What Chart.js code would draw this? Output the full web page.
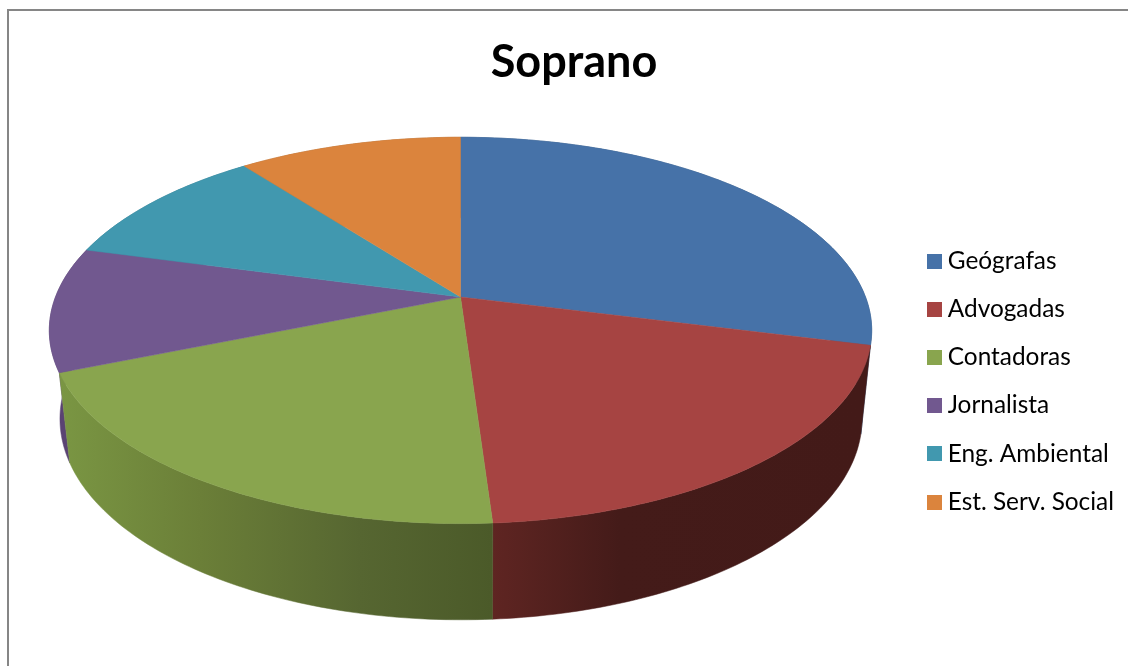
<!DOCTYPE html>
<html>
<head>
<meta charset="utf-8">
<title>Soprano</title>
<script src="https://cdn.jsdelivr.net/npm/chart.js@4"></script>
<style>
  html, body { margin: 0; padding: 0; background: #fff; }
  canvas { display: block; }
</style>
</head>
<body>
<canvas id="myChart" width="1128" height="666"></canvas>
<script>
'use strict'

const chartTitle = 'Soprano';
const categories = ['Geógrafas', 'Advogadas', 'Contadoras', 'Jornalista', 'Eng. Ambiental', 'Est. Serv. Social'];
const shares = [29, 20, 19.9, 10.4, 10.4, 10.4];
const topColors = ['#4672a8', '#a64442', '#89a54e', '#71588f', '#4198af', '#db843d'];
// rim shading, [x, colour] from left to right
const rimStops = [
  [[60, '#36587f'], [862, '#36587f']],
  [[492, '#5f2522'], [620, '#441b19'], [862, '#431a18']],
  [[60, '#7a9643'], [200, '#6b7f38'], [360, '#566631'], [492, '#4b5a29']],
  [[60, '#5a4373'], [862, '#5a4373']],
  [[60, '#32758a'], [862, '#32758a']],
  [[60, '#a9652e'], [862, '#a9652e']],
];

// tilted disc: top face and bottom face of the pie
const tilt = 0.173;
const topFace = { x: 460.5, y: 297, a: 405, b: 187.4 };
const bottomFace = { x: 461, y: 384, a: 395, b: 195 };

function project(face, angle) {
  const u = Math.cos(angle);
  const v = Math.sin(angle);
  const w = 1 - tilt * v;
  return { x: face.x + face.a * u / w, y: face.y + face.b * v / w };
}

function tracePath(ctx, face, from, to, first) {
  const steps = Math.max(2, Math.ceil(Math.abs(to - from) * 60));
  for (let i = 0; i <= steps; i++) {
    const p = project(face, from + (to - from) * i / steps);
    if (i === 0 && first) ctx.moveTo(p.x, p.y);
    else ctx.lineTo(p.x, p.y);
  }
}

function rimFill(ctx, index) {
  const stops = rimStops[index];
  const x0 = stops[0][0];
  const x1 = stops[stops.length - 1][0];
  const gradient = ctx.createLinearGradient(x0, 0, x1, 0);
  stops.forEach(([x, color]) => gradient.addColorStop((x - x0) / (x1 - x0), color));
  return gradient;
}

const pie3d = {
  id: 'pie3d',
  beforeDraw(chart) {
    // only the left and top of the frame are inside the picture
    const ctx = chart.ctx;
    ctx.save();
    ctx.fillStyle = '#868686';
    ctx.fillRect(7, 9, 2, 657);
    ctx.fillRect(7, 9, 1121, 2);
    ctx.restore();
  },
  beforeDatasetsDraw(chart) {
    const ctx = chart.ctx;
    const arcs = chart.getDatasetMeta(0).data.map((arc, index) => ({ arc, index }));

    // rims, back ones first
    const byDepth = arcs.slice().sort((m, n) =>
      Math.sin((m.arc.startAngle + m.arc.endAngle) / 2) - Math.sin((n.arc.startAngle + n.arc.endAngle) / 2));
    byDepth.forEach(({ arc, index }) => {
      ctx.beginPath();
      tracePath(ctx, topFace, arc.startAngle, arc.endAngle, true);
      tracePath(ctx, bottomFace, arc.endAngle, arc.startAngle, false);
      ctx.closePath();
      ctx.fillStyle = rimFill(ctx, index);
      ctx.strokeStyle = ctx.fillStyle;
      ctx.lineWidth = 0.5;
      ctx.fill();
      ctx.stroke();
    });

    // top face
    arcs.forEach(({ arc, index }) => {
      ctx.beginPath();
      ctx.moveTo(topFace.x, topFace.y);
      tracePath(ctx, topFace, arc.startAngle, arc.endAngle, false);
      ctx.closePath();
      ctx.fillStyle = topColors[index];
      ctx.fill();
      ctx.strokeStyle = topColors[index];
      ctx.lineWidth = 0.5;
      ctx.stroke();
    });
    return false;
  },
};

function makeSwatch(color) {
  const swatch = document.createElement('canvas');
  swatch.width = 15;
  swatch.height = 15;
  const c = swatch.getContext('2d');
  c.fillStyle = color;
  c.fillRect(0, 0, 15, 15);
  return swatch;
}

const swatches = topColors.map(makeSwatch);

const ctx = document.getElementById('myChart').getContext('2d');
const myChart = new Chart(ctx, {
  type: 'pie',
  data: {
    labels: categories,
    datasets: [{ data: shares, backgroundColor: topColors, borderWidth: 0 }],
  },
  plugins: [pie3d],
  options: {
    responsive: false,
    animation: false,
    layout: { padding: { left: 24, right: 4, top: 0, bottom: 0 } },
    plugins: {
      tooltip: { enabled: false },
      title: {
        display: true,
        text: chartTitle,
        color: '#000',
        font: { family: 'Lato', size: 45, weight: 'bold' },
        padding: { top: 35, bottom: 8 },
      },
      legend: {
        position: 'right',
        fullSize: false,
        labels: {
          color: '#000',
          font: { family: 'Lato', size: 24.4 },
          usePointStyle: true,
          boxWidth: 3,
          padding: 23.8,
          generateLabels(chart) {
            return Chart.overrides.pie.plugins.legend.labels.generateLabels(chart).map((item, i) => {
              item.pointStyle = swatches[i];
              return item;
            });
          },
        },
      },
    },
  },
});
</script>
</body>
</html>
